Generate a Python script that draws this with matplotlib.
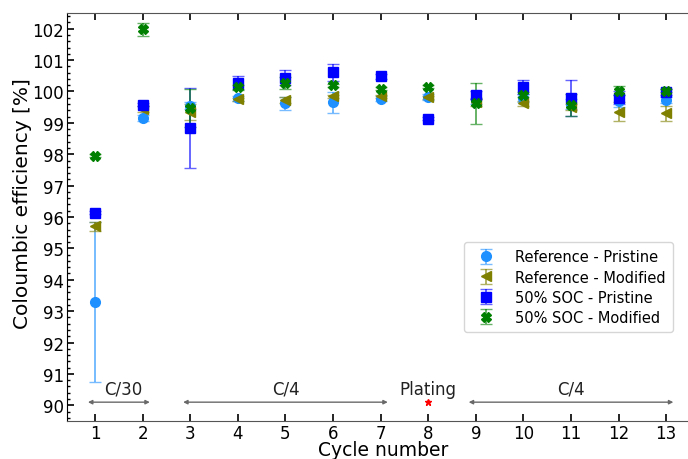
import numpy as np
import matplotlib.pyplot as plt

cycles = np.arange(1, 14)

ref_pristine = [93.3, 99.15, 99.55, 99.78, 99.62, 99.65, 99.77, 99.82, 99.7, 99.8, 99.6, 99.7, 99.73]
ref_pristine_err = [2.55, 0.1, 0.12, 0.08, 0.2, 0.33, 0.08, 0.1, 0.1, 0.12, 0.15, 0.2, 0.1]
ref_modified = [95.7, 99.45, 99.35, 99.75, 99.72, 99.84, 99.85, 99.82, 99.65, 99.62, 99.5, 99.36, 99.31]
ref_modified_err = [0.15, 0.1, 0.25, 0.05, 0.1, 0.05, 0.05, 0.05, 0.1, 0.08, 0.1, 0.29, 0.24]
soc_pristine = [96.13, 99.58, 98.83, 100.28, 100.44, 100.61, 100.49, 99.13, 99.88, 100.15, 99.8, 99.8, 99.98]
soc_pristine_err = [0.05, 0.05, 1.28, 0.2, 0.25, 0.28, 0.08, 0.05, 0.12, 0.23, 0.58, 0.2, 0.1]
soc_modified = [97.95, 101.98, 99.47, 100.14, 100.27, 100.2, 100.09, 100.15, 99.62, 99.9, 99.58, 100.03, 100.03]
soc_modified_err = [0.05, 0.2, 0.6, 0.08, 0.2, 0.05, 0.05, 0.05, 0.66, 0.08, 0.35, 0.15, 0.05]

# rate regions: (start, end, label, label x)
regions = [(0.85, 2.15, "C/30", 1.6), (2.85, 7.15, "C/4", 5.0), (8.85, 13.15, "C/4", 11.0)]

fig = plt.figure(figsize=(6.88, 4.6), dpi=100)
# axes runs a little past the right edge, like the original
ax = fig.add_axes([67/688, 38/460, 633/688, 408/460])

series = [
    (ref_pristine, ref_pristine_err, "o", "dodgerblue", "Reference - Pristine"),
    (ref_modified, ref_modified_err, "<", "olive", "Reference - Modified"),
    (soc_pristine, soc_pristine_err, "s", "blue", "50% SOC - Pristine"),
    (soc_modified, soc_modified_err, "X", "green", "50% SOC - Modified"),
]
for y, e, m, c, lab in series:
    cont = ax.errorbar(cycles, y, yerr=e, fmt=m, color=c, ms=7, capsize=4,
                       elinewidth=1.2, label=lab)
    for cl in cont[1]:
        cl.set_alpha(0.6)
    for bl in cont[2]:
        bl.set_alpha(0.7)

for x0, x1, txt, tx in regions:
    ax.annotate("", xy=(x0, 90.1), xytext=(x1, 90.1),
                arrowprops=dict(arrowstyle="<|-|>", color="dimgray", lw=1,
                                mutation_scale=6, shrinkA=0, shrinkB=0))
    ax.text(tx, 90.52, txt, ha="center", va="center", fontsize=12, color="#222222")

ax.plot(8, 90.1, "*", color="red", ms=5)
ax.text(8, 90.52, "Plating", ha="center", va="center", fontsize=12, color="#222222")

ax.set_xlim(0.41, 13.71)
ax.set_ylim(89.5, 102.5)
ax.set_xticks(cycles)
ax.set_yticks(np.arange(90, 103, 1))
ax.set_yticks(np.arange(89.6, 102.5, 0.2), minor=True)
ax.tick_params(direction="in", labelsize=12, top=True, right=True, length=5, width=1.2, pad=2)
ax.tick_params(which="minor", direction="in", left=True, length=2.5, width=1)
ax.set_xlabel("Cycle number", fontsize=13.5, labelpad=-1)
ax.set_ylabel("Coloumbic efficiency [%]", fontsize=14.5, labelpad=0, y=0.535)
for s in ["top", "bottom"]:
    ax.spines[s].set_color("#555555")
ax.spines["right"].set_visible(False)

ax.legend(loc="lower right", bbox_to_anchor=(606/633, 0.218), fontsize=10.5,
          handletextpad=1.0, borderpad=0.5, borderaxespad=0, labelspacing=0.35)

plt.savefig("out.png", dpi=100)
